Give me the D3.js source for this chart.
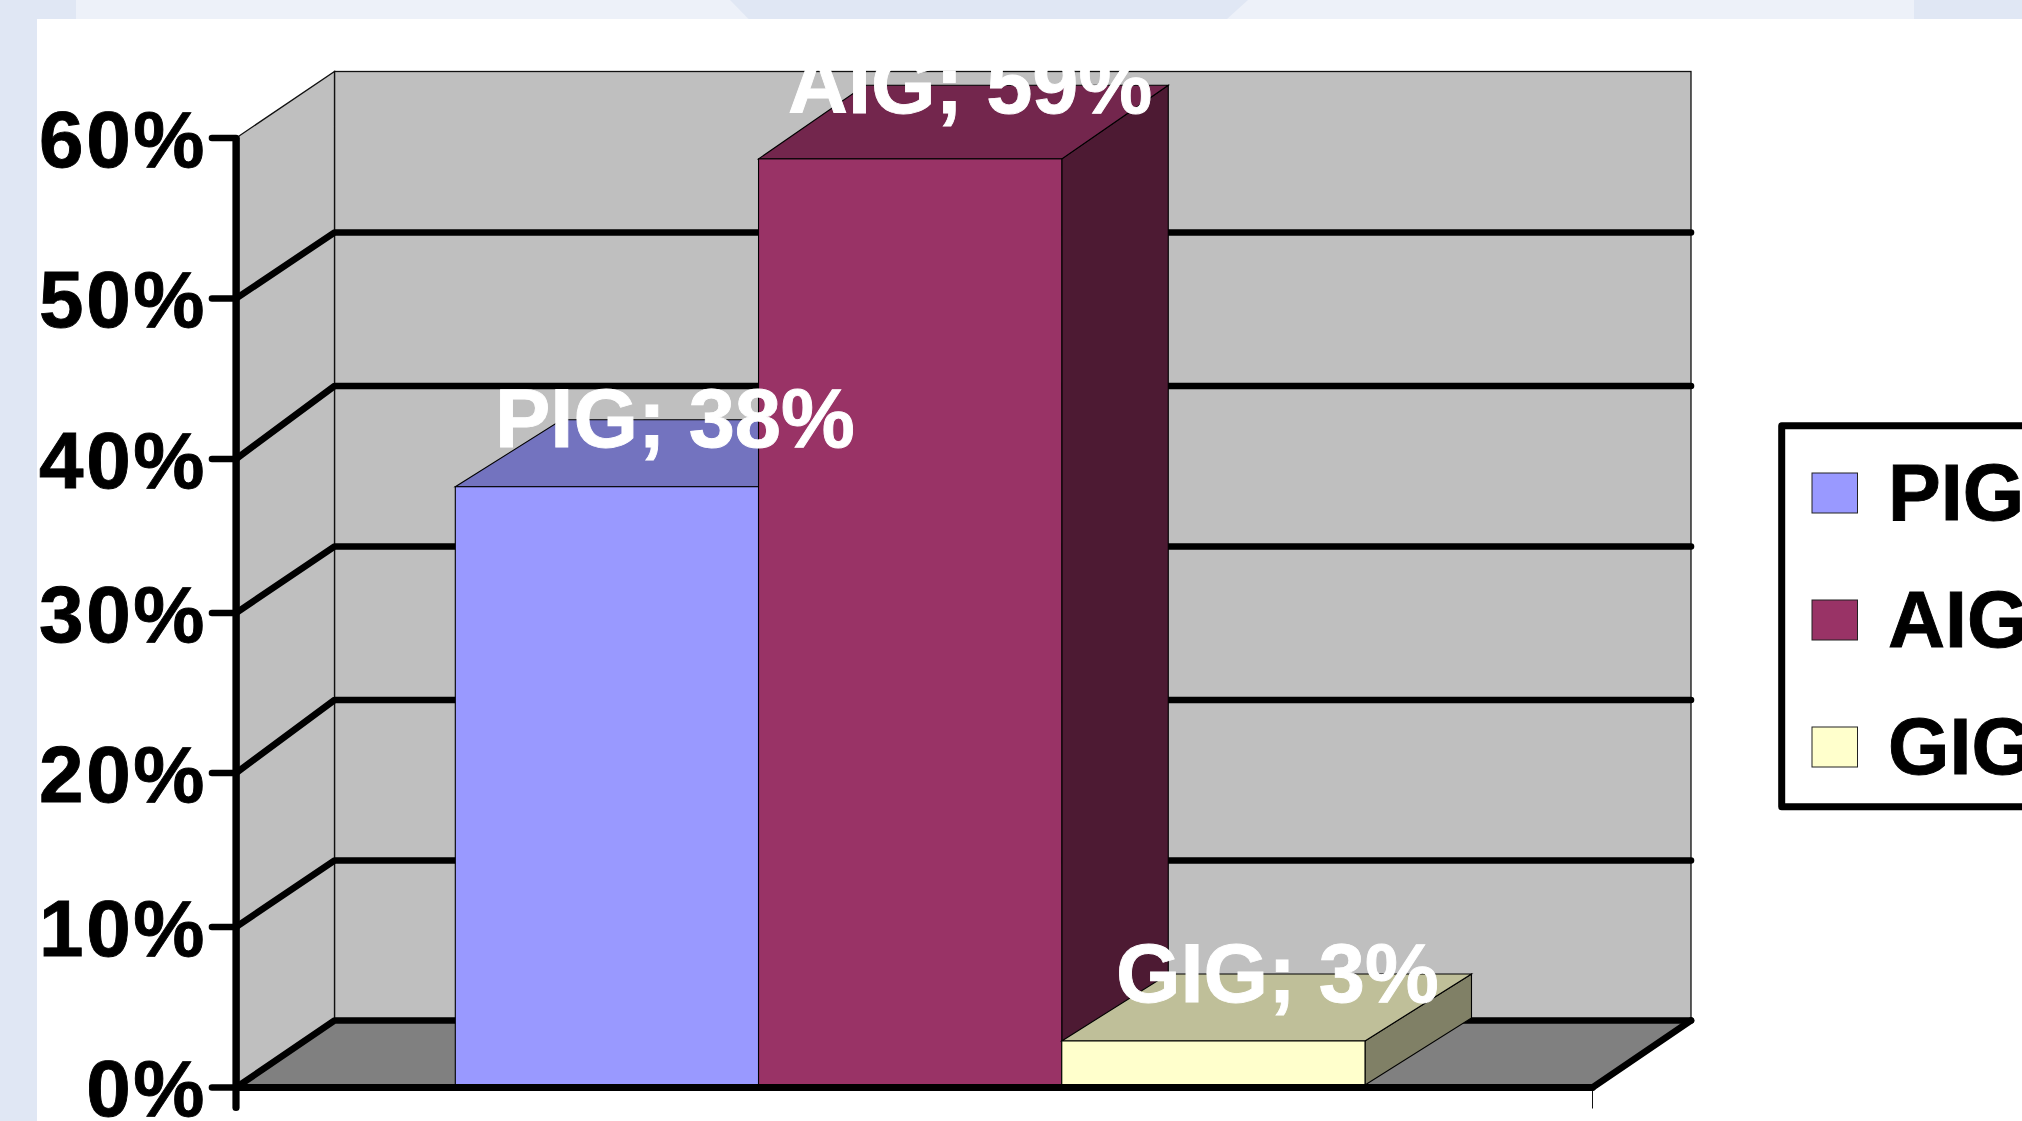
<!DOCTYPE html>
<html>
  <head>
    <title>PIG, AIG, GIG</title>
    <script src="https://d3js.org/d3.v7.min.js"></script>
    <style>
      html, body { margin: 0; padding: 0; background: #fff; overflow: hidden; }
      svg { display: block; }
      text { font-family: "Liberation Sans", Arial, sans-serif; font-weight: bold; }
    </style>
  </head>
  <body>
    <svg width="2022" height="1121"></svg>
    <script>
      // values
      const categories = ["PIG", "AIG", "GIG"];
      const values = [0.382, 0.587, 0.029];
      const tickValues = [0, 0.1, 0.2, 0.3, 0.4, 0.5, 0.6];

      const frontFills = ["#9999ff", "#993366", "#ffffcc"];
      const topFills = ["#7373bf", "#73264d", "#bfbf99"];
      const sideFills = ["#4d4d80", "#4d1a33", "#808066"];

      // the source chart snaps its rows to odd pixels, so the scales are piecewise
      const frontRows = [1087.5, 927, 773, 613, 459, 298.5, 138];
      const backRows = [1020.5, 860.5, 700, 546.5, 386, 232.5, 71.5];

      const svg = d3.select("svg");

      const frontLeft = 236;
      const wallLeft = 239;
      const backLeft = 334.5;
      const frontRight = 1592.5;
      const backRight = 1691;
      const barDx = 106.5;
      const barRise = [67, 73.6, 67];
      const labelShift = [[68, -40], [60, -46], [64, -39]];

      const yFront = d3.scaleLinear().domain(tickValues).range(frontRows);
      const yBack = d3.scaleLinear().domain(tickValues).range(backRows);
      const x = d3.scaleBand().domain(categories).range([455.3, 1365]);

      const pts = a => a.map(p => p.join(",")).join(" ");

      // slide background
      const bg = svg.append("g").attr("class", "background");
      bg.append("rect").attr("x", 0).attr("y", 0).attr("width", 2022).attr("height", 19).attr("fill", "#edf1f9");
      bg.append("rect").attr("x", 0).attr("y", 0).attr("width", 37).attr("height", 1121).attr("fill", "#e0e7f4");
      bg.append("rect").attr("x", 37).attr("y", 0).attr("width", 39).attr("height", 19).attr("fill", "#e0e7f4");
      bg.append("rect").attr("x", 1914).attr("y", 0).attr("width", 108).attr("height", 19).attr("fill", "#e0e7f4");
      bg.append("polygon").attr("points", pts([[730, 0], [1248, 0], [1227, 19], [748.5, 19]])).attr("fill", "#e0e7f4");

      // walls and floor
      const walls = svg.append("g").attr("class", "walls");
      walls.append("rect")
        .attr("x", backLeft).attr("y", yBack(0.6))
        .attr("width", backRight - backLeft).attr("height", yBack(0) - yBack(0.6))
        .attr("fill", "#bfbfbf").attr("stroke", "#111").attr("stroke-width", 1.3);
      walls.append("polygon")
        .attr("points", pts([[wallLeft, yFront(0)], [wallLeft, yFront(0.6) - 2], [backLeft, yBack(0.6)], [backLeft, yBack(0)]]))
        .attr("fill", "#bfbfbf").attr("stroke", "#111").attr("stroke-width", 1.3);
      walls.append("polygon")
        .attr("points", pts([[frontLeft, yFront(0)], [frontRight, yFront(0)], [backRight, yBack(0)], [backLeft, yBack(0)]]))
        .attr("fill", "#808080");

      // gridlines on the back and the side wall
      const grid = svg.append("g").attr("class", "grid")
        .attr("fill", "none").attr("stroke", "#000").attr("stroke-width", 6.6).attr("stroke-linecap", "round");
      grid.selectAll("polyline")
        .data(tickValues.slice(0, -1))
        .join("polyline")
          .attr("stroke-linejoin", "round")
          .attr("points", d => pts([[frontLeft, yFront(d)], [backLeft, yBack(d)], [backRight, yBack(d)]]));
      grid.append("line")
        .attr("x1", frontRight).attr("y1", yFront(0))
        .attr("x2", backRight).attr("y2", yBack(0));

      // bars
      const barBase = yFront(0) - 2.5;
      const bars = svg.append("g").attr("class", "bars")
        .selectAll("g").data(categories).join("g")
          .attr("stroke", "#000").attr("stroke-width", 1.1);

      bars.append("polygon")
        .attr("fill", (d, i) => sideFills[i])
        .attr("points", (d, i) => {
          const r = x(d) + x.bandwidth();
          const top = yFront(values[i]);
          return pts([[r, top], [r + barDx, top - barRise[i]], [r + barDx, barBase - 67], [r, barBase]]);
        });
      bars.append("polygon")
        .attr("fill", (d, i) => topFills[i])
        .attr("points", (d, i) => {
          const l = x(d), r = l + x.bandwidth();
          const top = yFront(values[i]);
          return pts([[l, top], [r, top], [r + barDx, top - barRise[i]], [l + barDx, top - barRise[i]]]);
        });
      bars.append("rect")
        .attr("x", d => x(d))
        .attr("y", (d, i) => yFront(values[i]))
        .attr("width", x.bandwidth())
        .attr("height", (d, i) => barBase - yFront(values[i]))
        .attr("fill", (d, i) => frontFills[i]);

      // front edge of the floor with the lone thin tick at its end
      const baseLine = svg.append("g").attr("class", "base");
      baseLine.append("line")
        .attr("x1", frontRight).attr("y1", yFront(0))
        .attr("x2", frontRight).attr("y2", yFront(0) + 21)
        .attr("stroke", "#111").attr("stroke-width", 1);
      baseLine.append("line")
        .attr("x1", frontLeft).attr("y1", yFront(0))
        .attr("x2", frontRight).attr("y2", yFront(0))
        .attr("stroke", "#000").attr("stroke-width", 6.8).attr("stroke-linecap", "round");

      // value axis
      const axis = d3.axisLeft(yFront)
        .tickValues(tickValues)
        .tickFormat(d3.format(".0%"))
        .tickSizeInner(24)
        .tickSizeOuter(0)
        .tickPadding(8)
        .offset(0);
      const axisG = svg.append("g")
        .attr("class", "axis")
        .attr("transform", `translate(${frontLeft},0)`)
        .call(axis);
      axisG.attr("font-family", null).attr("font-size", null);
      axisG.select(".domain")
        .attr("stroke", "#000").attr("stroke-width", 7.2);
      axisG.selectAll(".tick line")
        .attr("stroke", "#000").attr("stroke-width", 6.6).attr("stroke-linecap", "round");
      axisG.selectAll(".tick text")
        .attr("fill", "#000").attr("font-size", 80).attr("dy", 28.5).attr("x", -29)
        .attr("letter-spacing", 2.6)
        .attr("stroke", "#000").attr("stroke-width", 0.9);
      axisG.append("line")
        .attr("x1", 0).attr("y1", yFront(0)).attr("x2", 0).attr("y2", yFront(0) + 20)
        .attr("stroke", "#000").attr("stroke-width", 7.2).attr("stroke-linecap", "round");

      // data labels
      svg.append("g").attr("class", "labels")
        .selectAll("text").data(categories).join("text")
          .attr("fill", "#fff")
          .attr("stroke", "#fff").attr("stroke-width", 0.9)
          .attr("font-size", 83)
          .attr("text-anchor", "middle")
          .attr("x", (d, i) => x(d) + x.bandwidth() / 2 + labelShift[i][0])
          .attr("y", (d, i) => yFront(values[i]) + labelShift[i][1])
          .text((d, i) => `${d}; ${d3.format(".0%")(values[i])}`);

      // legend, runs off the right edge of the window
      const legend = svg.append("g").attr("class", "legend");
      legend.append("rect")
        .attr("x", 1781.7).attr("y", 425.7).attr("width", 320).attr("height", 381)
        .attr("fill", "#fff").attr("stroke", "#000").attr("stroke-width", 7).attr("stroke-linejoin", "round");
      const legendY = d3.scalePoint().domain(categories).range([493, 747]);
      legend.selectAll("rect.key").data(categories).join("rect")
        .attr("class", "key")
        .attr("x", 1812).attr("y", d => legendY(d) - 20)
        .attr("width", 45.5).attr("height", 40)
        .attr("fill", (d, i) => frontFills[i])
        .attr("stroke", "#222").attr("stroke-width", 1);
      legend.selectAll("text").data(categories).join("text")
        .attr("x", 1888).attr("y", d => legendY(d) + 27)
        .attr("font-size", 79).attr("fill", "#000")
        .attr("stroke", "#000").attr("stroke-width", 0.9)
        .text(d => d);
    </script>
  </body>
</html>
